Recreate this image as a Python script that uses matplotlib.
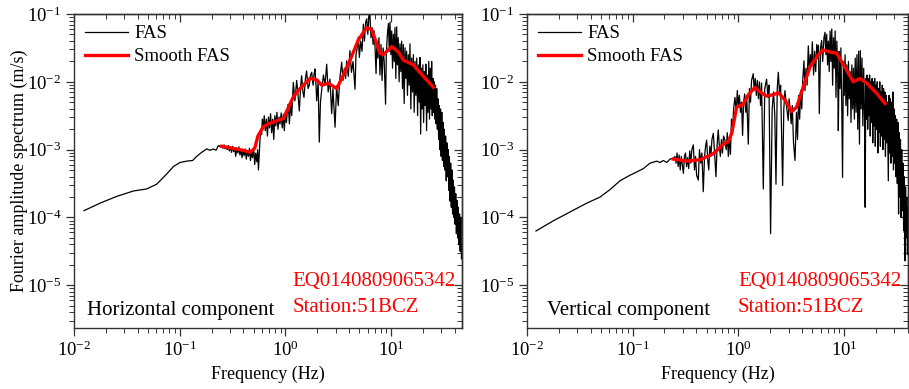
import numpy as np
import matplotlib
matplotlib.use("Agg")
import matplotlib.pyplot as plt
from matplotlib.ticker import LogLocator, LogFormatterSciNotation, NullFormatter

plt.rcParams['font.family'] = ['Liberation Serif', 'DejaVu Serif']
plt.rcParams['mathtext.fontset'] = 'custom'
plt.rcParams['mathtext.rm'] = 'Liberation Serif'
plt.rcParams['mathtext.it'] = 'Liberation Serif:italic'

# ---- horizontal component: raw FAS (log10 Hz, log10 m/s) ----
h_logf = [-1.905, -1.754, -1.596, -1.438, -1.312, -1.218, -1.123, -1.060, -0.997, -0.934,
          -0.877, -0.839, -0.792, -0.744, -0.713, -0.681, -0.656, -0.634, -0.612,
          -0.600, -0.590, -0.580, -0.570, -0.560, -0.550, -0.540, -0.530, -0.520, -0.510,
          -0.500, -0.490, -0.480, -0.470, -0.460, -0.450, -0.440, -0.430, -0.420, -0.410,
          -0.400, -0.390, -0.380, -0.370, -0.360, -0.350, -0.340, -0.330, -0.320, -0.310,
          -0.300, -0.290, -0.280, -0.270, -0.262, -0.255, -0.247, -0.240, -0.232, -0.225,
          -0.218, -0.210, -0.200, -0.190, -0.180, -0.170, -0.160, -0.150, -0.140, -0.130,
          -0.120, -0.110, -0.100, -0.090, -0.080, -0.070, -0.060, -0.050, -0.040, -0.030,
          -0.020, -0.010, 0.000, 0.010, 0.020, 0.028, 0.038, 0.050, 0.060, 0.075, 0.090,
          0.107, 0.120, 0.132, 0.145, 0.154, 0.166, 0.176, 0.190, 0.201, 0.215, 0.226,
          0.238, 0.249, 0.262, 0.272, 0.280, 0.290, 0.296, 0.310, 0.321, 0.332, 0.343,
          0.360, 0.375, 0.391, 0.405, 0.422, 0.438, 0.450, 0.460, 0.470, 0.485, 0.500,
          0.515, 0.533, 0.545, 0.558, 0.570, 0.580, 0.595, 0.611, 0.625, 0.640, 0.652,
          0.659, 0.668, 0.680, 0.690, 0.700, 0.712, 0.725, 0.738, 0.748, 0.760, 0.770,
          0.780, 0.790, 0.800, 0.810, 0.820, 0.830, 0.840, 0.850, 0.858, 0.866, 0.875,
          0.885, 0.895, 0.905, 0.915, 0.925, 0.935, 0.948, 0.955, 0.965, 0.975, 0.983,
          0.990, 0.998, 1.006, 1.014, 1.022, 1.030, 1.037, 1.045, 1.053, 1.060, 1.068,
          1.076, 1.084, 1.092, 1.100, 1.108, 1.116, 1.124, 1.132, 1.140, 1.147, 1.155,
          1.163, 1.171, 1.179, 1.187, 1.195, 1.203, 1.211, 1.219, 1.227, 1.235, 1.243,
          1.251, 1.259, 1.267, 1.273, 1.280, 1.287, 1.294, 1.301, 1.308, 1.315, 1.322,
          1.329, 1.336, 1.343, 1.350, 1.357, 1.364, 1.371, 1.378, 1.384, 1.390, 1.396,
          1.402, 1.408, 1.414, 1.420, 1.426, 1.432, 1.438, 1.444, 1.450, 1.456, 1.462,
          1.468, 1.474, 1.480, 1.486, 1.492, 1.498, 1.504, 1.510, 1.516, 1.522, 1.528,
          1.534, 1.540, 1.546, 1.552, 1.558, 1.564, 1.570, 1.576, 1.582, 1.588, 1.594,
          1.600, 1.606, 1.612, 1.618, 1.624, 1.630, 1.636, 1.642, 1.648, 1.654, 1.660, 1.666]
h_loga = [-3.90, -3.79, -3.69, -3.61, -3.58, -3.51, -3.36, -3.25, -3.19, -3.17,
          -3.16, -3.10, -3.04, -2.99, -3.01, -2.99, -3.01, -2.94, -2.96,
          -2.95, -2.98, -2.93, -2.99, -2.96, -3.00, -2.94, -3.02, -2.96, -3.04,
          -2.95, -3.03, -2.97, -3.10, -2.98, -3.05, -2.96, -3.08, -3.00, -3.12,
          -3.01, -3.09, -2.99, -3.14, -3.02, -3.10, -2.98, -3.16, -3.03, -3.12,
          -2.97, -3.22, -3.05, -3.18, -3.00, -3.30, -3.05, -2.85, -2.70, -2.78,
          -2.55, -2.70, -2.50, -2.72, -2.55, -2.80, -2.52, -2.68, -2.47, -2.75,
          -2.55, -2.85, -2.50, -2.65, -2.45, -2.70, -2.52, -2.62, -2.46, -2.68,
          -2.48, -2.72, -2.45, -2.60, -2.40, -2.33, -2.62, -2.30, -2.50, -2.01, -2.28,
          -1.98, -2.20, -2.43, -2.05, -1.91, -2.15, -2.23, -1.95, -1.84, -2.10, -2.05,
          -1.90, -1.86, -2.05, -1.88, -1.81, -2.05, -2.28, -2.00, -2.89, -2.30, -2.13,
          -1.90, -2.05, -1.74, -2.15, -1.96, -2.47, -2.10, -2.40, -2.67, -2.06, -2.35,
          -1.95, -1.71, -1.98, -1.80, -1.95, -1.69, -1.92, -1.54, -1.86, -1.70, -1.95,
          -2.11, -1.60, -1.50, -1.34, -1.64, -1.40, -1.55, -1.15, -1.40, -1.12, -1.07,
          -1.30, -1.05, -1.02, -1.35, -1.20, -1.45, -1.25, -1.55, -1.88, -1.40, -1.65,
          -1.35, -1.90, -1.45, -1.98, -1.50, -1.70, -2.33, -1.60, -1.30, -1.14, -1.55,
          -1.12, -1.60, -1.25, -1.80, -1.30, -1.70, -1.20, -1.95, -1.19, -1.75, -1.35,
          -2.00, -1.44, -1.85, -1.40, -2.10, -1.45, -2.32, -1.50, -1.95, -1.55, -2.20,
          -1.60, -2.05, -1.44, -2.40, -1.65, -2.15, -1.60, -2.45, -1.70, -2.20, -1.65,
          -2.50, -1.75, -2.30, -1.64, -2.77, -1.80, -2.40, -1.75, -2.60, -1.85, -2.35,
          -1.74, -2.72, -1.90, -2.45, -1.70, -2.55, -1.80, -2.40, -1.70, -2.50, -1.95,
          -2.45, -2.00, -2.55, -2.05, -2.62, -2.10, -2.70, -2.25, -2.85, -2.35, -3.00,
          -2.40, -3.10, -2.45, -3.16, -2.60, -3.25, -2.70, -3.30, -2.80, -3.46, -2.90,
          -3.40, -3.00, -3.60, -3.10, -3.76, -3.20, -3.85, -3.30, -3.95, -3.45, -4.00,
          -3.55, -4.10, -3.65, -4.24, -3.75, -4.30, -3.85, -4.40, -3.95, -4.50, -4.00, -4.61]

# smoothed FAS, horizontal
hs_logf = [-0.603, -0.50, -0.40, -0.335, -0.29, -0.26, -0.208, -0.145, -0.019, 0.076,
           0.139, 0.233, 0.297, 0.344, 0.407, 0.486, 0.549, 0.612, 0.691, 0.770,
           0.817, 0.896, 0.927, 1.006, 1.069, 1.117, 1.211, 1.306, 1.401]
hs_loga = [-2.95, -2.98, -3.01, -3.04, -2.98, -2.80, -2.66, -2.61, -2.54, -2.22,
           -2.10, -1.95, -1.97, -2.05, -2.02, -2.10, -1.90, -1.68, -1.38, -1.20,
           -1.23, -1.58, -1.60, -1.48, -1.56, -1.68, -1.75, -1.92, -2.08]

# ---- vertical component ----
v_logf = [-1.915, -1.751, -1.593, -1.435, -1.309, -1.215, -1.120, -1.041, -0.962, -0.899,
          -0.836, -0.773, -0.741, -0.710, -0.678, -0.647, -0.615,
          -0.600, -0.590, -0.580, -0.570, -0.560, -0.550, -0.540, -0.530, -0.520, -0.510,
          -0.500, -0.490, -0.480, -0.470, -0.460, -0.450, -0.440, -0.426, -0.415, -0.405,
          -0.395, -0.379, -0.368, -0.355, -0.345, -0.332, -0.320, -0.310, -0.300, -0.290,
          -0.280, -0.270, -0.260, -0.250, -0.237, -0.225, -0.212, -0.200, -0.190, -0.180,
          -0.170, -0.160, -0.150, -0.140, -0.127, -0.115, -0.105, -0.095, -0.085, -0.075,
          -0.065, -0.055, -0.045, -0.032, -0.020, -0.010, 0.000, 0.010, 0.020, 0.030,
          0.040, 0.050, 0.060, 0.070, 0.080, 0.094, 0.105, 0.115, 0.125, 0.141, 0.150,
          0.160, 0.170, 0.180, 0.190, 0.200, 0.210, 0.220, 0.236, 0.250, 0.267, 0.280,
          0.290, 0.305, 0.320, 0.333, 0.345, 0.356, 0.368, 0.378, 0.390, 0.400, 0.419,
          0.430, 0.441, 0.455, 0.472, 0.480, 0.490, 0.500, 0.510, 0.522, 0.536, 0.550,
          0.560, 0.570, 0.580, 0.590, 0.600, 0.610, 0.621, 0.630, 0.640, 0.650, 0.662,
          0.672, 0.682, 0.692, 0.700, 0.712, 0.722, 0.732, 0.742, 0.750, 0.758, 0.766,
          0.778, 0.788, 0.798, 0.810, 0.820, 0.828, 0.836, 0.844, 0.852, 0.860, 0.868,
          0.876, 0.884, 0.892, 0.900, 0.908, 0.916, 0.924, 0.932, 0.940, 0.946, 0.954,
          0.962, 0.970, 0.978, 0.986, 0.994, 1.002, 1.010, 1.018, 1.026, 1.034, 1.042,
          1.050, 1.058, 1.066, 1.074, 1.082, 1.090, 1.098, 1.106, 1.114, 1.122, 1.130,
          1.138, 1.146, 1.154, 1.162, 1.170, 1.178, 1.186, 1.194, 1.200, 1.206, 1.212,
          1.218, 1.224, 1.230, 1.236, 1.242, 1.248, 1.254, 1.260, 1.266, 1.272, 1.278,
          1.284, 1.290, 1.296, 1.302, 1.308, 1.314, 1.320, 1.326, 1.332, 1.338, 1.344,
          1.350, 1.356, 1.362, 1.368, 1.374, 1.380, 1.386, 1.392, 1.398, 1.404, 1.410,
          1.419, 1.426, 1.432, 1.438, 1.444, 1.450, 1.456, 1.462, 1.468, 1.474, 1.480,
          1.486, 1.492, 1.498, 1.504, 1.510, 1.516, 1.522, 1.528, 1.534, 1.540, 1.546,
          1.552, 1.558, 1.564, 1.570, 1.576, 1.582, 1.588, 1.594, 1.600, 1.606]
v_loga = [-4.20, -4.05, -3.92, -3.79, -3.70, -3.59, -3.46, -3.39, -3.33, -3.28,
          -3.20, -3.17, -3.19, -3.16, -3.19, -3.14, -3.13,
          -3.10, -3.20, -3.05, -3.25, -3.08, -3.30, -3.10, -3.22, -3.35, -3.10,
          -3.05, -3.25, -3.12, -3.28, -3.02, -3.20, -3.00, -2.93, -3.30, -3.10,
          -3.38, -3.45, -3.00, -3.20, -3.05, -3.62, -3.10, -2.95, -2.86, -3.15,
          -3.30, -2.95, -3.10, -2.85, -2.76, -3.05, -3.40, -2.90, -2.71, -2.95,
          -3.10, -2.85, -3.05, -2.80, -2.86, -3.00, -2.75, -3.10, -2.82, -3.07,
          -2.55, -2.75, -2.40, -2.23, -2.45, -2.13, -2.35, -2.20, -2.45, -2.30,
          -2.79, -2.30, -2.18, -2.45, -2.25, -2.92, -2.10, -2.30, -1.98, -1.88, -2.13,
          -1.95, -2.20, -1.98, -2.25, -2.00, -2.35, -2.02, -3.58, -2.10, -1.96, -2.23,
          -2.05, -4.24, -2.40, -2.15, -2.50, -3.51, -2.10, -1.86, -2.18, -2.05, -3.53,
          -2.40, -2.13, -2.35, -2.57, -2.25, -2.40, -2.62, -2.35, -2.90, -3.16, -2.45,
          -2.85, -2.20, -2.55, -2.13, -2.40, -1.95, -1.69, -2.13, -1.80, -2.05, -1.47,
          -1.85, -1.60, -1.75, -1.41, -1.90, -1.55, -1.85, -1.45, -1.65, -1.46, -2.47,
          -1.50, -1.39, -1.70, -1.35, -1.27, -1.60, -1.30, -1.75, -1.40, -1.85, -1.25,
          -1.70, -1.22, -2.05, -1.35, -1.80, -1.25, -2.23, -1.40, -1.90, -2.72, -1.55,
          -2.10, -1.50, -2.30, -3.41, -1.70, -2.20, -1.60, -2.35, -1.75, -2.50, -1.70,
          -2.25, -1.85, -2.60, -1.75, -2.40, -1.80, -2.55, -1.65, -2.45, -1.60, -2.70,
          -1.55, -2.92, -1.54, -2.40, -1.65, -2.65, -1.80, -2.50, -3.85, -1.95, -2.55,
          -1.90, -2.70, -1.95, -2.50, -1.90, -2.80, -2.00, -2.60, -1.95, -2.90, -2.00,
          -2.65, -1.95, -2.95, -2.05, -2.70, -2.00, -3.05, -2.10, -2.75, -2.00, -2.95,
          -2.15, -2.80, -2.05, -3.00, -2.10, -2.85, -2.15, -3.10, -2.20, -2.90, -2.30,
          -3.46, -2.20, -3.05, -2.25, -3.20, -2.30, -3.10, -2.15, -3.30, -2.40, -3.20,
          -2.50, -3.40, -2.55, -3.50, -2.60, -3.95, -2.75, -3.70, -2.85, -4.00, -3.00,
          -3.90, -3.20, -4.20, -3.40, -4.64, -3.55, -4.30, -3.70, -4.55, -3.85]

vs_logf = [-0.615, -0.489, -0.363, -0.237, -0.142, -0.095, -0.063, -0.016, 0.041, 0.095,
           0.158, 0.205, 0.268, 0.331, 0.379, 0.442, 0.505, 0.552, 0.615, 0.678,
           0.757, 0.804, 0.868, 0.931, 1.025, 1.088, 1.151, 1.215, 1.309, 1.388]
vs_loga = [-3.14, -3.17, -3.15, -3.06, -2.92, -2.88, -2.76, -2.37, -2.34, -2.19,
           -2.08, -2.15, -2.21, -2.19, -2.16, -2.27, -2.44, -2.37, -2.07, -1.78,
           -1.60, -1.53, -1.56, -1.58, -1.83, -2.00, -1.95, -2.02, -2.17, -2.32]

panels = [
    ("Horizontal component", h_logf, h_loga, hs_logf, hs_loga, 46.9),
    ("Vertical component", v_logf, v_loga, vs_logf, vs_loga, 40.3),
]
event_id = "EQ0140809065342"
station = "Station:51BCZ"

W, H = 909, 389
fig = plt.figure(figsize=(W / 100, H / 100), dpi=100)
boxes = [(74, 388), (527, 381)]   # left pixel, width pixel
top_px, bot_px = 14, 328
tick_col = '#333333'


def log_ticks(axis):
    axis.set_major_locator(LogLocator(base=10, numticks=10))
    axis.set_minor_locator(LogLocator(base=10, subs=np.arange(2, 10), numticks=20))
    axis.set_minor_formatter(NullFormatter())


for i, (name, lf, la, slf, sla, fmax) in enumerate(panels):
    x0, w = boxes[i]
    ax = fig.add_axes([x0 / W, 1 - bot_px / H, w / W, (bot_px - top_px) / H])
    ax.plot(10 ** np.array(lf), 10 ** np.array(la), color='black', lw=0.9, label='FAS')
    ax.plot(10 ** np.array(slf), 10 ** np.array(sla), color='red', lw=2.4, label='Smooth FAS')
    ax.set_xscale('log')
    ax.set_yscale('log')
    ax.set_xlim(0.01, fmax)
    ax.set_ylim(2.34e-6, 0.1)
    log_ticks(ax.xaxis)
    log_ticks(ax.yaxis)
    ax.xaxis.set_major_formatter(LogFormatterSciNotation())
    ax.yaxis.set_major_formatter(LogFormatterSciNotation())
    # bottom / left ticks outward
    ax.tick_params(which='both', direction='out', top=False, right=False,
                   labelsize=13.5, color=tick_col)
    ax.tick_params(which='major', length=6, width=0.9)
    ax.tick_params(which='minor', length=3.5, width=0.7)
    ax.tick_params(axis='x', which='major', pad=3)
    ax.tick_params(axis='y', which='major', pad=3)
    # top / right ticks inward, no labels
    sx = ax.secondary_xaxis('top')
    sy = ax.secondary_yaxis('right')
    log_ticks(sx.xaxis)
    log_ticks(sy.yaxis)
    sx.tick_params(which='both', direction='in', labeltop=False, color=tick_col)
    sy.tick_params(which='both', direction='in', labelright=False, color=tick_col)
    for s in (sx, sy):
        s.tick_params(which='major', length=6, width=0.9)
        s.tick_params(which='minor', length=3.5, width=0.7)
    for sp in list(ax.spines.values()) + list(sx.spines.values()) + list(sy.spines.values()):
        sp.set_linewidth(1.0)
        sp.set_color(tick_col)

    ax.set_xlabel('Frequency (Hz)', fontsize=13, labelpad=4)
    if i == 0:
        ax.set_ylabel('Fourier amplitude spectrum (m/s)', fontsize=13, labelpad=-1)
    ax.legend(loc='upper left', frameon=False, fontsize=13.5, handlelength=2.3,
              handletextpad=0.3, labelspacing=0.3, borderaxespad=0.2,
              bbox_to_anchor=(0.0, 1.0))
    ax.text(0.034 if i == 0 else 0.052, 0.041, name, transform=ax.transAxes,
            fontsize=15, color='black', va='baseline')
    xr = 0.564 if i == 0 else 0.554
    ax.text(xr, 0.134, event_id, transform=ax.transAxes, fontsize=15, color='red', va='baseline')
    ax.text(xr, 0.051, station, transform=ax.transAxes, fontsize=15, color='red', va='baseline')

fig.savefig('out.png', dpi=100)
